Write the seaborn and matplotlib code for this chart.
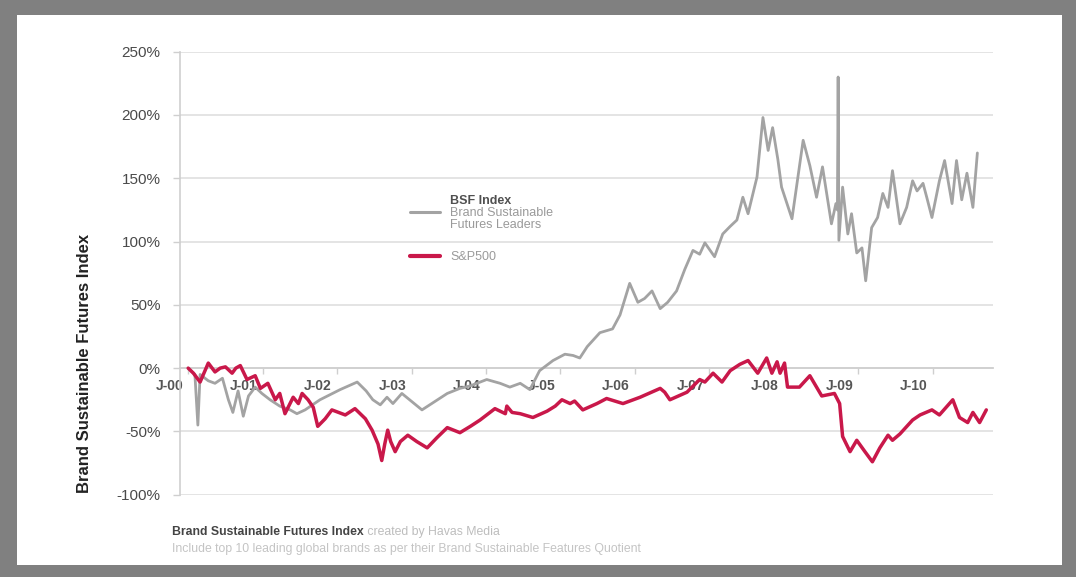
import matplotlib
matplotlib.use("Agg")
import matplotlib.pyplot as plt
from matplotlib.transforms import ScaledTranslation
from matplotlib.patches import Rectangle
from matplotlib.lines import Line2D
import pandas as pd
import seaborn as sns

# BSF Index (Brand Sustainable Futures Leaders), cumulative return in %
bsf_year = [2000.00, 2000.09, 2000.13, 2000.16, 2000.27, 2000.36, 2000.46, 2000.54, 2000.60,
            2000.67, 2000.74, 2000.81, 2000.90, 2000.99, 2001.10, 2001.23, 2001.37, 2001.46,
            2001.57, 2001.77, 2002.04, 2002.27, 2002.39, 2002.48, 2002.58, 2002.67, 2002.75,
            2002.87, 2003.14, 2003.48, 2003.65, 2003.79, 2004.01, 2004.19, 2004.32, 2004.46,
            2004.59, 2004.72, 2004.90, 2005.06, 2005.17, 2005.26, 2005.36, 2005.53, 2005.70,
            2005.80, 2005.93, 2006.04, 2006.13, 2006.23, 2006.34, 2006.44, 2006.56, 2006.67,
            2006.78, 2006.87, 2006.94, 2007.07, 2007.18, 2007.28, 2007.37, 2007.45, 2007.52,
            2007.64, 2007.72, 2007.79, 2007.85, 2007.92, 2007.97, 2008.11, 2008.26, 2008.35,
            2008.44, 2008.52, 2008.64, 2008.70, 2008.72, 2008.73, 2008.74, 2008.79, 2008.86,
            2008.91, 2008.98, 2009.05, 2009.10, 2009.18, 2009.26, 2009.33, 2009.40, 2009.46,
            2009.56, 2009.65, 2009.73, 2009.79, 2009.87, 2009.92, 2009.99, 2010.09, 2010.16,
            2010.26, 2010.32, 2010.39, 2010.46, 2010.54, 2010.60]
bsf_value = [0, -5, -45, -5, -10, -12, -8, -25, -35,
             -18, -38, -22, -15, -20, -25, -30, -33, -36,
             -33, -25, -17, -11, -18, -25, -29, -23, -28,
             -20, -33, -20, -16, -14, -9, -12, -15, -12,
             -17, -2, 6, 11, 10, 8, 17, 28, 31,
             42, 67, 52, 55, 61, 47, 52, 61, 78,
             93, 90, 99, 88, 106, 112, 117, 135, 122,
             151, 198, 172, 190, 165, 143, 118, 180, 160,
             135, 159, 114, 130, 125, 230, 101, 143, 106,
             122, 91, 95, 69, 111, 119, 138, 127, 156,
             114, 127, 148, 140, 146, 135, 119, 148, 164,
             130, 164, 133, 154, 127, 170]

# S&P500, cumulative return in %
sp_year = [2000.00, 2000.07, 2000.16, 2000.27, 2000.36, 2000.43, 2000.50, 2000.59, 2000.64,
           2000.70, 2000.79, 2000.90, 2000.97, 2001.07, 2001.17, 2001.23, 2001.30, 2001.41,
           2001.48, 2001.53, 2001.61, 2001.68, 2001.74, 2001.84, 2001.93, 2002.11, 2002.24,
           2002.38, 2002.47, 2002.55, 2002.60, 2002.64, 2002.68, 2002.72, 2002.78, 2002.85,
           2002.95, 2003.07, 2003.21, 2003.34, 2003.48, 2003.65, 2003.79, 2003.92, 2004.12,
           2004.19, 2004.26, 2004.28, 2004.35, 2004.46, 2004.63, 2004.82, 2004.93, 2005.02,
           2005.13, 2005.19, 2005.30, 2005.49, 2005.62, 2005.84, 2006.07, 2006.34, 2006.40,
           2006.47, 2006.70, 2006.87, 2006.94, 2007.05, 2007.17, 2007.28, 2007.41, 2007.52,
           2007.65, 2007.77, 2007.84, 2007.91, 2007.95, 2008.01, 2008.05, 2008.21, 2008.35,
           2008.51, 2008.68, 2008.75, 2008.79, 2008.89, 2008.98, 2009.09, 2009.19, 2009.29,
           2009.40, 2009.46, 2009.56, 2009.73, 2009.83, 2009.99, 2010.09, 2010.27, 2010.36,
           2010.47, 2010.54, 2010.63, 2010.72]
sp_value = [0, -4, -11, 4, -3, 0, 1, -4, 0,
            2, -9, -6, -16, -12, -25, -20, -36, -23,
            -28, -20, -25, -31, -46, -40, -33, -37, -32,
            -40, -49, -60, -73, -60, -49, -58, -66, -58,
            -53, -58, -63, -55, -47, -51, -46, -41, -32,
            -34, -36, -30, -35, -36, -39, -34, -30, -25,
            -28, -26, -33, -28, -24, -28, -23, -16, -19,
            -25, -19, -9, -11, -4, -11, -2, 3, 6,
            -4, 8, -4, 5, -4, 4, -15, -15, -6,
            -22, -20, -28, -54, -66, -57, -66, -74, -63,
            -53, -57, -52, -41, -37, -33, -37, -25, -39,
            -43, -35, -43, -33]

year_ticks = list(range(2000, 2011))
year_labels = ["J-00", "J-01", "J-02", "J-03", "J-04", "J-05",
               "J-06", "J-07", "J-08", "J-09", "J-10"]
pct_ticks = [-100, -50, 0, 50, 100, 150, 200, 250]

bsf = pd.DataFrame({"year": bsf_year, "value": bsf_value})
sp = pd.DataFrame({"year": sp_year, "value": sp_value})

sns.set_theme(style="white")
plt.rcParams["font.family"] = ["Liberation Sans", "DejaVu Sans"]

W, H = 1076, 577
fig = plt.figure(figsize=(W / 100, H / 100), dpi=100)
fig.patch.set_facecolor("#808080")
fig.patches.append(Rectangle((17 / W, 1 - 565 / H), (1062 - 17) / W, (565 - 15) / H,
                             transform=fig.transFigure, facecolor="white",
                             edgecolor="none", zorder=-5))

ax = fig.add_axes([180 / W, 1 - 494.7 / H, (993 - 180) / W, (494.7 - 51.7) / H])
ax.set_facecolor("none")

GRAY = "#a3a3a3"
RED = "#c9184a"

sns.lineplot(data=bsf, x="year", y="value", ax=ax, color=GRAY, linewidth=2.0,
             estimator=None, sort=False, zorder=3)
sns.lineplot(data=sp, x="year", y="value", ax=ax, color=RED, linewidth=2.5,
             estimator=None, sort=False, zorder=4)

ax.set_xlim(1999.89, 2010.81)
ax.set_ylim(-100, 250)

# horizontal grid
ax.set_yticks(pct_ticks)
ax.set_yticklabels([f"{v}%" for v in pct_ticks])
ax.yaxis.grid(True, color="#e2e2e2", linewidth=1.3)
ax.xaxis.grid(False)
ax.set_axisbelow(True)

for side in ["top", "right"]:
    ax.spines[side].set_visible(False)
ax.spines["left"].set_color("#cfcfcf")
ax.spines["left"].set_linewidth(1.2)
ax.spines["bottom"].set_position(("data", 0))
ax.spines["bottom"].set_color("#cfcfcf")
ax.spines["bottom"].set_linewidth(1.3)

ax.tick_params(axis="y", which="both", left=True, length=5, width=1, color="#cfcfcf",
               pad=9, labelsize=11, labelcolor="#4a4a4a")
ax.set_xticks(year_ticks)
ax.set_xticklabels(year_labels, fontweight="bold")
ax.tick_params(axis="x", which="both", bottom=True, length=4, width=1, color="#cfcfcf",
               pad=4, labelsize=10, labelcolor="#555555")
shift = ScaledTranslation(-19 / 100, 0, fig.dpi_scale_trans)
for lab in ax.get_xticklabels():
    lab.set_transform(lab.get_transform() + shift)

ax.set_xlabel("")
ax.set_ylabel("")
fig.text(85 / W, 1 - 363 / H, "Brand Sustainable Futures Index", rotation=90,
         ha="center", va="center", fontsize=12, fontweight="bold", color="#222222")

# legend: a bold heading row, the BSF entry, then the S&P500 entry
blank = Line2D([], [], color="none")
leg_bsf = fig.legend([blank, Line2D([], [], color=GRAY, linewidth=2.2), blank],
                     ["BSF Index", "Brand Sustainable", "Futures Leaders"],
                     loc="upper left", bbox_to_anchor=(410 / W, 1 - 195 / H),
                     frameon=False, fontsize=9, handlelength=2.4, handletextpad=0.8,
                     labelspacing=0.0, borderpad=0, borderaxespad=0,
                     labelcolor="#9a9a9a")
leg_bsf.get_texts()[0].set_fontweight("bold")
leg_bsf.get_texts()[0].set_color("#505050")
leg_sp = fig.legend([Line2D([], [], color=RED, linewidth=3.0)], ["S&P500"],
                    loc="upper left", bbox_to_anchor=(410 / W, 1 - 251 / H),
                    frameon=False, fontsize=9, handlelength=2.4, handletextpad=0.8,
                    borderpad=0, borderaxespad=0, labelcolor="#9a9a9a")

# footer note
note = fig.text(172 / W, 1 - 532 / H, "Brand Sustainable Futures Index", ha="left",
                va="center", fontsize=8.8, fontweight="bold", color="#444444")
ax.annotate(" created by Havas Media", xy=(1, 0), xycoords=note, va="bottom", ha="left",
            fontsize=8.8, color="#bdbdbd", annotation_clip=False)
fig.text(172 / W, 1 - 549 / H,
         "Include top 10 leading global brands as per their Brand Sustainable Features Quotient",
         ha="left", va="center", fontsize=8.8, color="#c4c4c4")

fig.savefig("out.png", dpi=100, facecolor=fig.get_facecolor())
